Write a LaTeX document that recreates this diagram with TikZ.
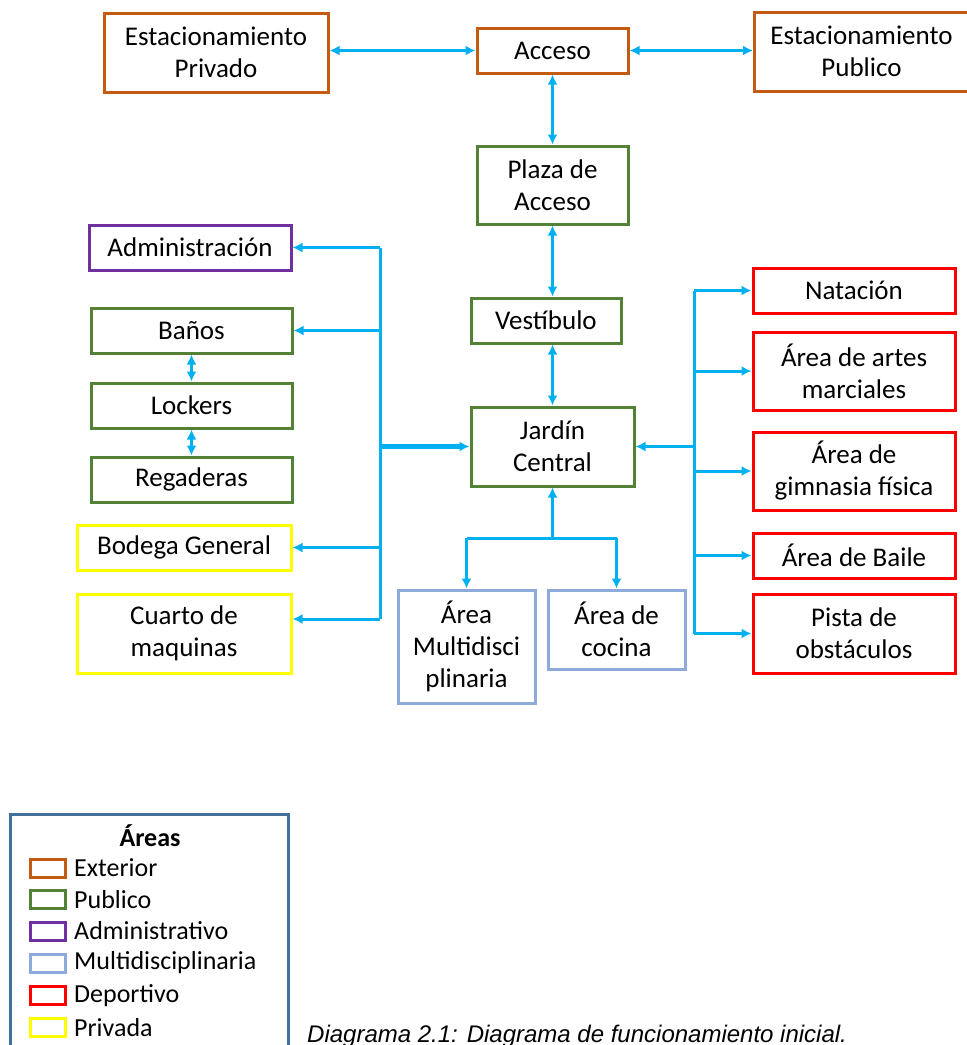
\documentclass[tikz,border=0pt]{standalone}
\usepackage{fontspec}
\setmainfont{Carlito}
\newfontfamily\capfont{Liberation Sans}
\usetikzlibrary{arrows.meta}
\definecolor{cext}{HTML}{C55A11}
\definecolor{cpub}{HTML}{538135}
\definecolor{cadm}{HTML}{7030A0}
\definecolor{cmul}{HTML}{8EAADB}
\definecolor{cdep}{HTML}{FF0000}
\definecolor{cpri}{HTML}{FFFF00}
\definecolor{carr}{HTML}{00B0F0}
\definecolor{cleg}{HTML}{41719C}
\tikzset{
  box/.style={draw, line width=3pt, align=center, inner sep=0pt,
    font=\fontsize{27}{32}\selectfont},
  ext/.style={box, draw=cext},
  pub/.style={box, draw=cpub},
  adm/.style={box, draw=cadm},
  mul/.style={box, draw=cmul},
  dep/.style={box, draw=cdep},
  pri/.style={box, draw=cpri},
  wire/.style={draw=carr, line width=3pt},
  arr/.style={wire, -{Latex[length=10pt,width=10pt]}},
  darr/.style={wire, {Latex[length=10pt,width=10pt]}-{Latex[length=10pt,width=10pt]}},
  legsw/.style={draw, line width=3pt, minimum width=35pt, minimum height=18pt, inner sep=0pt},
  legtx/.style={anchor=west, inner sep=0pt, font=\fontsize{26}{30}\selectfont},
}
\begin{document}
\begin{tikzpicture}[x=1pt,y=-1pt]
\useasboundingbox (0,0) rectangle (967,1045);
% Exterior
\node[ext, minimum width=224pt, minimum height=79pt] (priv) at (216,52.5) {Estacionamiento\\Privado};
\node[ext, minimum width=151pt, minimum height=45pt] (acc) at (552.5,50.5) {Acceso};
\node[ext, minimum width=214pt, minimum height=79pt, anchor=west] (publ) at (753,51.5) {Estacionamiento\\Publico};
% Public centre
\node[pub, minimum width=151pt, minimum height=78pt] (pla) at (552.5,185) {Plaza de\\Acceso};
\node[pub, minimum width=150pt, minimum height=45pt] (ves) at (546,320.5) {Vestíbulo};
\node[pub, minimum width=163pt, minimum height=79pt] (jar) at (552.5,446.5) {Jardín\\Central};
% Left
\node[adm, minimum width=202pt, minimum height=45pt] (adm) at (190,247.5) {Administración};
\node[pub, minimum width=201pt, minimum height=45pt] (ban) at (191.5,330.5) {Baños};
\node[pub, minimum width=201pt, minimum height=45pt] (loc) at (191.5,405.5) {Lockers};
\node[pub, minimum width=201pt, minimum height=45pt] (reg) at (191.5,479.5) {Regaderas};
\node[pri, minimum width=214pt, minimum height=45pt] (bod) at (184,547.5) {Bodega General};
\node[pri, minimum width=214pt, minimum height=79pt] (cua) at (184,633.5) {Cuarto de\\maquinas};
% Right
\node[dep, minimum width=202pt, minimum height=45pt] (nat) at (854,290.5) {Natación};
\node[dep, minimum width=202pt, minimum height=78pt] (art) at (854,371) {Área de artes\\marciales};
\node[dep, minimum width=202pt, minimum height=78pt] (gim) at (854,471) {Área de\\gimnasia física};
\node[dep, minimum width=202pt, minimum height=45pt] (bai) at (854,555.5) {Área de Baile};
\node[dep, minimum width=202pt, minimum height=79pt] (pis) at (854,633.5) {Pista de\\obstáculos};
% Bottom
\node[mul, minimum width=137pt, minimum height=113pt] (mul) at (466.5,646.5) {Área\\Multidisci\\plinaria};
\node[mul, minimum width=137pt, minimum height=79pt] (coc) at (616.5,629.5) {Área de\\cocina};
% Top connectors
\draw[darr] (priv.east |- acc.west) -- (acc.west);
\draw[darr] (acc.east) -- (acc.east -| publ.west);
\draw[darr] (acc.south) -- (pla.north);
\draw[darr] (pla.south) -- (pla.south |- ves.north);
\draw[darr] (jar.north |- ves.south) -- (jar.north);
% Left bus
\coordinate (lbt) at (380,247.5);
\coordinate (lbb) at (380,619);
\draw[wire] (lbt) -- (lbb);
\draw[arr] (lbt) -- (adm.east);
\draw[arr] (lbt |- ban.east) -- (ban.east);
\draw[arr] (lbt |- bod.east) -- (bod.east);
\draw[arr] (lbb) -- (lbb -| cua.east);
\draw[arr, line width=5pt] (lbt |- jar.west) -- (jar.west);
\draw[darr] (ban.south) -- (loc.north);
\draw[darr] (loc.south) -- (reg.north);
% Right bus
\coordinate (rbt) at (694,290.5);
\coordinate (rbb) at (694,633.5);
\draw[wire] (rbt) -- (rbb);
\draw[arr] (rbt |- jar.east) -- (jar.east);
\draw[arr] (rbt) -- (nat.west);
\draw[arr] (rbt |- art.west) -- (art.west);
\draw[arr] (rbt |- gim.west) -- (gim.west);
\draw[arr] (rbt |- bai.west) -- (bai.west);
\draw[arr] (rbb) -- (pis.west);
% Bottom
\coordinate (bj) at (552.5,538);
\draw[arr] (bj) -- (jar.south);
\draw[wire] (bj -| mul.north) -- (bj -| coc.north);
\draw[arr] (bj -| mul.north) -- (mul.north);
\draw[arr] (bj -| coc.north) -- (coc.north);
% Legend
\draw[cleg, line width=3pt] (10,1052) -- (10,814) -- (288,814) -- (288,1052);
\node[font=\fontsize{26}{30}\selectfont\bfseries, inner sep=0pt] (legt) at (150,836) {Áreas};
\node[legsw, draw=cext] (l1) at (47.5,868) {};
\node[legsw, draw=cpub] (l2) at (47.5,899.5) {};
\node[legsw, draw=cadm] (l3) at (47.5,931) {};
\node[legsw, draw=cmul] (l4) at (47.5,963) {};
\node[legsw, draw=cdep] (l5) at (47.5,995.5) {};
\node[legsw, draw=cpri] (l6) at (47.5,1027.5) {};
\node[legtx] (t1) at (74,868) {Exterior};
\node[legtx] (t2) at (74,899.5) {Publico};
\node[legtx] (t3) at (74,931) {Administrativo};
\node[legtx] (t4) at (74,963) {Multidisciplinaria};
\node[legtx] (t5) at (74,995.5) {Deportivo};
\node[legtx] (t6) at (74,1027.5) {Privada};
% Caption
\node[anchor=base west, inner sep=0pt, font=\capfont\itshape\fontsize{24}{28}\selectfont] (cap) at (307,1042) {Diagrama 2.1: Diagrama de funcionamiento inicial.};
\end{tikzpicture}
\end{document}
